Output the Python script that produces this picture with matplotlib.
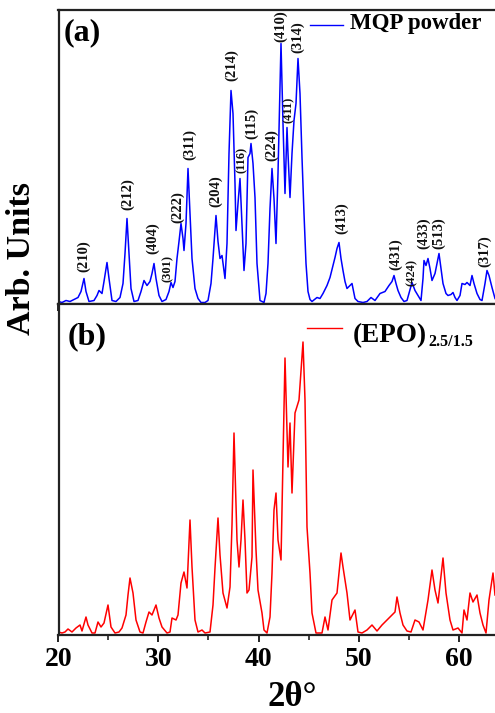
import matplotlib
matplotlib.use("Agg")
import matplotlib.pyplot as plt
from matplotlib.ticker import MultipleLocator

plt.rcParams['font.family'] = ['Liberation Serif', 'DejaVu Serif']
plt.rcParams['font.weight'] = 'bold'

# ---- data: panel (a) MQP powder ----
tt_a = [20.0, 20.35, 20.75, 21.15, 21.55, 21.95, 22.25, 22.55, 22.75, 23.05, 23.55, 23.85, 24.05, 24.35,
        24.55, 24.85, 25.05, 25.35, 25.75, 26.15, 26.45, 26.65, 26.85, 27.05, 27.25, 27.55, 27.95, 28.25,
        28.55, 28.85, 29.15, 29.35, 29.55, 29.75, 30.05, 30.35, 30.75, 31.05, 31.25, 31.45, 31.65, 31.85,
        32.05, 32.25, 32.45, 32.55, 32.75, 32.95, 33.15, 33.35, 33.65, 33.95, 34.25, 34.65, 34.95, 35.25,
        35.45, 35.75, 35.95, 36.15, 36.35, 36.65, 36.85, 37.05, 37.25, 37.45, 37.65, 37.75, 37.95, 38.15,
        38.35, 38.55, 38.75, 38.95, 39.15, 39.25, 39.45, 39.65, 39.85, 40.15, 40.55, 40.75, 40.95, 41.15,
        41.35, 41.55, 41.75, 41.95, 42.15, 42.25, 42.45, 42.65, 42.85, 42.95, 43.15, 43.35, 43.55, 43.75,
        43.95, 44.15, 44.35, 44.55, 44.75, 44.95, 45.15, 45.35, 45.85, 46.15, 46.45, 46.85, 47.15, 47.45,
        47.65, 47.85, 48.05, 48.25, 48.45, 48.65, 48.85, 49.15, 49.35, 49.65, 49.95, 50.45, 50.85, 51.25,
        51.65, 52.15, 52.65, 53.05, 53.35, 53.55, 53.75, 53.95, 54.25, 54.55, 54.85, 55.15, 55.35, 55.65,
        55.95, 56.25, 56.45, 56.55, 56.75, 56.95, 57.15, 57.35, 57.65, 57.85, 58.05, 58.25, 58.45, 58.75,
        58.95, 59.25, 59.45, 59.65, 59.85, 60.15, 60.35, 60.65, 60.85, 61.15, 61.35, 61.55, 61.85, 62.15,
        62.35, 62.65, 62.85, 63.05, 63.35, 63.65]
int_a = [2, 1, 3, 2, 4, 6, 12, 25, 12, 2, 3, 8, 13, 10,
         22, 41, 25, 3, 2, 6, 20, 50, 85, 50, 15, 2, 3, 12,
         23, 18, 22, 30, 40, 25, 8, 2, 4, 12, 21, 16, 22, 45,
         62, 80, 65, 53, 80, 135, 90, 45, 15, 5, 1, 1, 3, 20,
         45, 88, 62, 45, 48, 25, 60, 150, 213, 190, 120, 73, 100, 125,
         80, 33, 60, 146, 150, 160, 140, 106, 40, 3, 1, 10, 40, 95,
         135, 105, 60, 130, 220, 260, 180, 110, 176, 150, 106, 150, 183, 200,
         245, 210, 146, 90, 40, 12, 4, 2, 6, 5, 10, 18, 26, 38,
         46, 55, 61, 45, 33, 22, 15, 18, 20, 5, 2, 1, 2, 6,
         3, 10, 12, 18, 22, 28, 20, 13, 6, 2, 3, 14, 21, 13,
         8, 3, 25, 43, 38, 45, 35, 23, 30, 40, 50, 35, 20, 10,
         8, 9, 11, 6, 3, 8, 20, 19, 21, 18, 28, 20, 10, 4,
         3, 20, 33, 28, 16, 5]

# ---- data: panel (b) (EPO)2.5/1.5 ----
tt_b = [20.0, 20.35, 20.65, 20.95, 21.35, 21.75, 22.15, 22.35, 22.75, 22.95, 23.35, 23.65, 23.95, 24.25,
        24.55, 24.95, 25.25, 25.65, 26.05, 26.35, 26.75, 26.95, 27.15, 27.45, 27.75, 28.15, 28.45, 28.75,
        29.05, 29.35, 29.75, 30.05, 30.35, 30.85, 31.15, 31.35, 31.75, 31.95, 32.25, 32.55, 32.85, 33.15,
        33.35, 33.65, 33.95, 34.35, 34.65, 35.15, 35.45, 35.65, 35.95, 36.15, 36.45, 36.85, 37.15, 37.35,
        37.55, 37.85, 38.05, 38.25, 38.45, 38.65, 38.85, 39.05, 39.35, 39.45, 39.75, 39.95, 40.35, 40.55,
        40.85, 41.15, 41.35, 41.55, 41.75, 41.95, 42.25, 42.45, 42.65, 42.95, 43.15, 43.35, 43.65, 44.05,
        44.45, 44.65, 44.85, 45.15, 45.35, 45.75, 46.35, 46.65, 46.95, 47.35, 47.85, 48.25, 48.45, 48.85,
        49.15, 49.65, 49.95, 50.35, 50.85, 51.35, 51.85, 52.35, 52.85, 53.35, 53.65, 53.85, 54.15, 54.45,
        54.85, 55.25, 55.65, 56.05, 56.45, 56.95, 57.35, 57.65, 57.95, 58.45, 58.75, 59.15, 59.45, 59.95,
        60.35, 60.55, 60.85, 61.15, 61.45, 61.85, 62.15, 62.45, 62.75, 63.05, 63.45, 63.65]
int_b = [3, 2, 3, 6, 3, 7, 10, 4, 18, 10, 2, 2, 13, 8,
         12, 30, 8, 2, 3, 7, 20, 40, 57, 42, 15, 3, 2, 13,
         23, 20, 30, 17, 8, 2, 3, 17, 15, 20, 52, 63, 47, 115,
         68, 15, 3, 5, 2, 3, 30, 67, 117, 80, 42, 27, 48, 110,
         202, 95, 68, 95, 135, 95, 42, 45, 78, 165, 85, 45, 22, 5,
         2, 18, 62, 125, 142, 95, 75, 175, 277, 168, 212, 142, 222, 235,
         293, 235, 108, 62, 22, 2, 2, 18, 5, 35, 42, 82, 68, 42,
         15, 25, 3, 2, 5, 10, 4, 10, 15, 20, 23, 38, 22, 10,
         4, 3, 15, 13, 5, 35, 65, 45, 32, 77, 42, 15, 5, 7,
         2, 25, 15, 42, 33, 40, 22, 10, 2, 35, 62, 40]

# ---- peak labels (Miller indices) ----
hkl_text = ['(210)', '(212)', '(404)', '(301)', '(222)', '(311)', '(204)', '(214)', '(116)', '(115)',
            '(224)', '(410)', '(411)', '(314)', '(413)', '(431)', '(424)', '(433)', '(513)', '(317)']
hkl_tt = [22.55, 26.95, 29.45, 30.95, 31.95, 33.15, 35.75, 37.35, 38.35, 39.35,
          41.35, 42.25, 43.05, 43.95, 48.35, 53.75, 55.35, 56.55, 58.05, 62.65]
hkl_y = [47, 109, 65, 35, 96, 159, 112, 238, 144, 180,
         158, 277, 194, 266, 85, 49, 31, 70, 70, 52]
hkl_small = ['(301)', '(116)', '(411)', '(424)']

xticks = [20, 30, 40, 50, 60]

W, H = 495, 713
fig = plt.figure(figsize=(W / 100, H / 100), dpi=100)

left = 58.5 / W
width = 1 - left
ax_a = fig.add_axes([left, 1 - 303.5 / H, width, (303.5 - 10) / H])
ax_b = fig.add_axes([left, 1 - 635 / H, width, (635 - 303.5) / H])

for ax in (ax_a, ax_b):
    ax.set_xlim(20, 63.65)
    ax.xaxis.set_major_locator(MultipleLocator(10))
    ax.xaxis.set_minor_locator(MultipleLocator(5))
    ax.set_yticks([])
    ax.spines['right'].set_visible(False)
    for s in ('left', 'top', 'bottom'):
        ax.spines[s].set_linewidth(1.6)
        ax.spines[s].set_color('#222222')
    ax.tick_params(axis='x', which='major', direction='out', length=5, width=1.4, color='#222222')
    ax.tick_params(axis='x', which='minor', direction='out', length=3.5, width=1.2, color='#222222')

ax_a.set_ylim(0, 293.5)
ax_b.set_ylim(0, 331.5)

ax_a.plot(tt_a, int_a, color='#0000ff', lw=1.1)
ax_b.plot(tt_b, int_b, color='#ff0000', lw=1.1)

ax_a.tick_params(axis='x', labelbottom=False)
ax_b.set_xticks(xticks)
ax_b.set_xticklabels([str(v) for v in xticks], fontsize=20, fontweight='bold')
ax_b.tick_params(axis='x', which='major', pad=4)

for t, xx, yy in zip(hkl_text, hkl_tt, hkl_y):
    fs = 9 if t in hkl_small else 10.5
    ax_a.text(xx, yy, t, rotation=90, ha='center', va='center', fontsize=fs,
              fontweight='bold', color='#111111')

# panel letters
fig.text(82 / W, 1 - 33 / H, '(a)', fontsize=23, fontweight='bold', ha='center', va='center')
fig.text(87 / W, 1 - 337 / H, '(b)', fontsize=23, fontweight='bold', ha='center', va='center')

# legends
fig.add_artist(plt.Line2D([310 / W, 343 / W], [1 - 25 / H, 1 - 25 / H], color='#0000ff', lw=1.0))
fig.text(350 / W, 1 - 23 / H, 'MQP powder', fontsize=16.5, fontweight='bold', ha='left', va='center')
fig.add_artist(plt.Line2D([307 / W, 342 / W], [1 - 328 / H, 1 - 328 / H], color='#ff0000', lw=1.0))
fig.text(353 / W, 1 - 342 / H, '(EPO)', fontsize=19.5, fontweight='bold', ha='left', va='baseline')
fig.text(428 / W, 1 - 346 / H, '2.5/1.5', fontsize=11.5, fontweight='bold', ha='left', va='baseline')

# axis labels
fig.text(22 / W, 1 - 258 / H, 'Arb. Units', fontsize=24.5, fontweight='bold', rotation=90,
         ha='center', va='center')
fig.text(292 / W, 1 - 697 / H, '2θ°', fontsize=25, fontweight='bold', ha='center', va='center')

fig.savefig('out.png', dpi=100)
